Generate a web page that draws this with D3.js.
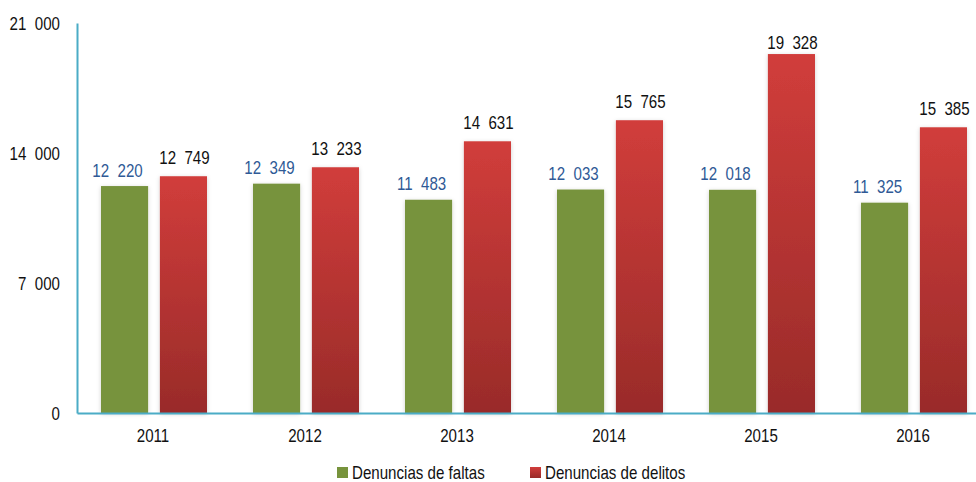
<!DOCTYPE html>
<html><head><meta charset="utf-8">
<script src="https://cdn.jsdelivr.net/npm/d3@7"></script>
<style>
html,body{margin:0;padding:0;background:#fff;}
svg text{font-family:"Liberation Sans Narrow","Arial Narrow","Liberation Sans",Arial,sans-serif;}
</style></head>
<body><svg id="chart" width="976" height="482"></svg>
<script>
const years = ["2011","2012","2013","2014","2015","2016"];
const faltas = [12220,12349,11483,12033,12018,11325];
const delitos = [12749,13233,14631,15765,19328,15385];
const seriesNames = ["Denuncias de faltas","Denuncias de delitos"];
const yTicks = [0,7000,14000,21000];

const fmt = v => { const s = String(v); return s.length>3 ? s.slice(0,s.length-3)+"\u00a0 "+s.slice(-3) : s; };
const SX = 0.84;
const FS = 18;
function narrow(sel){
  sel.each(function(){
    const X = +(this.getAttribute("x")||0);
    this.setAttribute("transform", `translate(${X*(1-SX)},0) scale(${SX},1)`);
  });
}

const svg = d3.select("#chart");
const defs = svg.append("defs");
const grad = defs.append("linearGradient").attr("id","redGrad").attr("x1",0).attr("y1",0).attr("x2",0).attr("y2",1);
grad.append("stop").attr("offset","0%").attr("stop-color","#d13d3b");
grad.append("stop").attr("offset","100%").attr("stop-color","#992b29");
const f = defs.append("filter").attr("id","shadow").attr("x","-20%").attr("y","-5%").attr("width","140%").attr("height","110%");
f.append("feDropShadow").attr("dx",0).attr("dy",1).attr("stdDeviation",2).attr("flood-color","#000").attr("flood-opacity",0.18);

const x0 = d3.scaleBand().domain(years).range([77, 77+6*152]);
const x1 = d3.scaleBand().domain(seriesNames).range([24,130]).paddingInner(0.2);
const y = d3.scaleLinear().domain([0,21000]).range([413,23]);

const data = years.map((yr,i)=>({year:yr, vals:[faltas[i], delitos[i]]}));

const g = svg.append("g").selectAll("g").data(data).join("g")
  .attr("transform", d=>`translate(${x0(d.year)},0)`);

g.selectAll("rect").data(d=>d.vals.map((v,j)=>({v,j}))).join("rect")
  .attr("x", d=>x1(seriesNames[d.j]))
  .attr("width", x1.bandwidth())
  .attr("y", d=>y(d.v))
  .attr("height", d=>y(0)-y(d.v))
  .attr("fill", d=>d.j===0 ? "#77933c" : "url(#redGrad)")
  .attr("filter","url(#shadow)");

g.selectAll("text.val").data(d=>d.vals.map((v,j)=>({v,j}))).join("text")
  .attr("class","val")
  .attr("x", d=>x1(seriesNames[d.j]) + x1.bandwidth()/2 + (d.j===0?-7:1))
  .attr("y", d=>d.j===0 ? y(d.v) - 9.5 : Math.max(y(d.v) - 12, 49))
  .attr("text-anchor","middle")
  .attr("font-size",FS)
  .attr("fill", d=>d.j===0 ? "#2f5a96" : "#111")
  .text(d=>fmt(d.v))
  .call(narrow);

// axes
const yAxis = d3.axisLeft(y).tickValues(yTicks).tickSize(0).tickPadding(17).tickFormat(fmt);
const ya = svg.append("g").attr("transform","translate(77,0)").call(yAxis);
ya.select(".domain").attr("stroke","#4bacc6").attr("stroke-width",2);
ya.selectAll("text").attr("font-size",FS).attr("fill","#111").attr("dy","0.35em").call(narrow);

const xAxis = d3.axisBottom(x0).tickSize(0).tickPadding(16);
const xa = svg.append("g").attr("transform","translate(0,413)").call(xAxis);
xa.select(".domain").attr("stroke","#4bacc6").attr("stroke-width",2);
xa.selectAll("text").attr("font-size",FS).attr("fill","#111").call(narrow);

// legend
const legend = svg.append("g");
const legX = [337, 530];
seriesNames.forEach((n,i)=>{
  legend.append("rect").attr("x",legX[i]).attr("y",467).attr("width",11).attr("height",11)
    .attr("fill", i===0 ? "#77933c" : "url(#redGrad)");
  legend.append("text").attr("x",legX[i]+15).attr("y",479).attr("font-size",FS).attr("fill","#111").text(n).call(narrow);
});
</script></body></html>
